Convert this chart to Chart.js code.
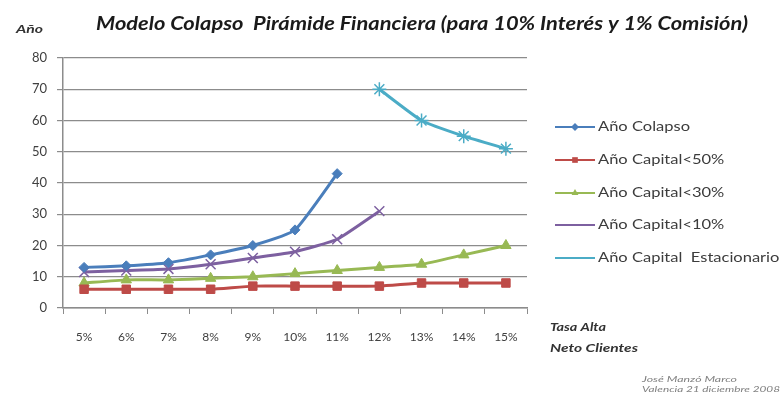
<!DOCTYPE html>
<html>
<head>
<meta charset="utf-8">
<script src="https://cdn.jsdelivr.net/npm/chart.js@4.4.1/dist/chart.umd.min.js"></script>
<style>
  html, body { margin: 0; padding: 0; background: #fff; }
  .chart-container { width: 783px; height: 399px; position: relative; }
</style>
</head>
<body>
<div class="chart-container"><canvas id="myChart" width="783" height="399"></canvas></div>
<script>
const tasas = ['5%', '6%', '7%', '8%', '9%', '10%', '11%', '12%', '13%', '14%', '15%'];
const anoColapso = [13, 13.5, 14.5, 17, 20, 25, 43, null, null, null, null];
const anoCapital50 = [6, 6, 6, 6, 7, 7, 7, 7, 8, 8, 8];
const anoCapital30 = [8, 9, 9, 9.5, 10, 11, 12, 13, 14, 17, 20];
const anoCapital10 = [11.5, 12, 12.5, 14, 16, 18, 22, 31, null, null, null];
const anoEstacionario = [null, null, null, null, null, null, null, 70, 60, 55, 51];
const yTicks = [0, 10, 20, 30, 40, 50, 60, 70, 80];

const titulo = 'Modelo Colapso  Pirámide Financiera (para 10% Interés y 1% Comisión)';
const font = 'Lato, "Open Sans", sans-serif';

const serie = (label, data, color, style, radius) => ({
  label: label,
  data: data,
  borderColor: color,
  backgroundColor: color,
  borderWidth: 3,
  pointStyle: style,
  pointRadius: radius,
  pointBorderWidth: style === 'crossRot' || style === 'star' ? 1.5 : 1,
  tension: 0.15,
  spanGaps: false,
});

// text stretched to a given width (the original fonts are wide)
const wideText = (ctx, text, x, y, width) => {
  const w = ctx.measureText(text).width;
  ctx.save();
  ctx.translate(x, y);
  ctx.scale(width / w, 1);
  ctx.fillText(text, 0, 0);
  ctx.restore();
};

// legend + free texts, Excel style
const extras = {
  id: 'extras',
  afterDraw: (chart) => {
    const ctx = chart.ctx;
    ctx.save();
    ctx.textBaseline = 'alphabetic';
    ctx.textAlign = 'center';
    ctx.fillStyle = '#1a1a1a';
    ctx.font = 'italic bold 18px ' + font;
    wideText(ctx, titulo, 422, 30, 652);

    ctx.textAlign = 'left';
    ctx.fillStyle = '#333';
    ctx.font = 'italic bold 11px ' + font;
    wideText(ctx, 'Año', 16, 33, 27);
    ctx.font = 'italic bold 12px ' + font;
    wideText(ctx, 'Tasa Alta', 550, 331, 56);
    wideText(ctx, 'Neto Clientes', 550, 352, 88);

    ctx.font = 'italic 8px ' + font;
    ctx.fillStyle = '#808080';
    wideText(ctx, 'José Manzó Marco', 642, 382, 95);
    wideText(ctx, 'Valencia 21 diciembre 2008', 642, 392, 138);

    const rows = [127, 160, 193, 225, 258];
    ctx.font = '13px ' + font;
    ctx.textBaseline = 'middle';
    const k = 92 / ctx.measureText('Año Colapso').width;
    chart.data.datasets.forEach((ds, i) => {
      const y = rows[i];
      ctx.strokeStyle = ds.borderColor;
      ctx.lineWidth = 2;
      ctx.beginPath();
      ctx.moveTo(555, y);
      ctx.lineTo(595, y);
      ctx.stroke();
      ctx.fillStyle = ds.backgroundColor;
      ctx.lineWidth = 1;
      Chart.helpers.drawPoint(ctx, { pointStyle: ds.pointStyle, radius: 4, rotation: 0 }, 575, y);
      ctx.fillStyle = '#3c3c3c';
      wideText(ctx, ds.label, 598, y, ctx.measureText(ds.label).width * k);
    });
    ctx.restore();
  }
};

const ctx = document.getElementById('myChart').getContext('2d');
const myChart = new Chart(ctx, {
  type: 'line',
  data: {
    labels: tasas,
    datasets: [
      serie('Año Colapso', anoColapso, '#4a7ebb', 'rectRot', 5),
      serie('Año Capital<50%', anoCapital50, '#be4b48', 'rect', 6),
      serie('Año Capital<30%', anoCapital30, '#98b954', 'triangle', 6),
      serie('Año Capital<10%', anoCapital10, '#7d60a0', 'crossRot', 7),
      serie('Año Capital  Estacionario', anoEstacionario, '#4bacc6', 'star', 7),
    ],
  },
  options: {
    responsive: false,
    animation: false,
    layout: { padding: { left: 0, top: 58, right: 256, bottom: 51 } },
    plugins: { legend: { display: false }, title: { display: false }, tooltip: { enabled: false } },
    scales: {
      x: {
        offset: true,
        afterFit: (scale) => { scale.height = 40; },
        grid: { offset: true, drawOnChartArea: false, tickLength: 6, color: '#8c8c8c' },
        border: { color: '#8c8c8c', width: 1.5 },
        ticks: { padding: 16, color: '#404040', font: { family: font, size: 12 } },
      },
      y: {
        min: 0,
        max: 80,
        afterFit: (scale) => { scale.width = 63; },
        afterBuildTicks: (scale) => { scale.ticks = yTicks.map(v => ({ value: v })); },
        grid: { color: '#8c8c8c', lineWidth: 1.2, tickLength: 6 },
        border: { color: '#8c8c8c', width: 1.5 },
        ticks: { padding: 10, color: '#404040', font: { family: font, size: 13 } },
      },
    },
  },
  plugins: [extras],
});
</script>
</body>
</html>
